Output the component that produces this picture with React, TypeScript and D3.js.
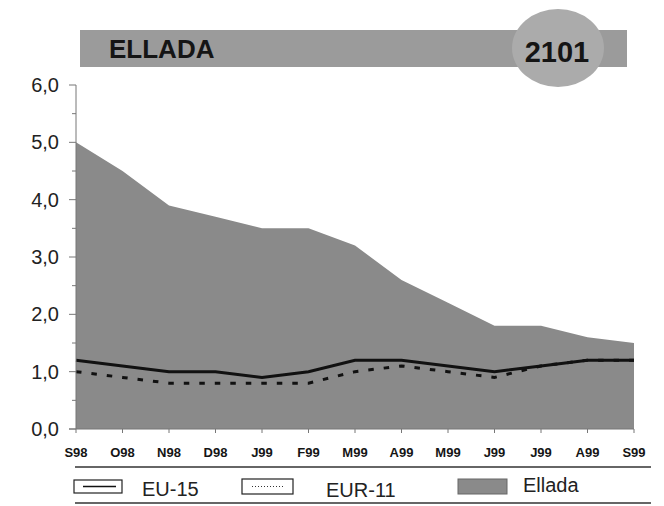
import React from "react";
import * as d3 from "d3";

const months = ["S98", "O98", "N98", "D98", "J99", "F99", "M99", "A99", "M99", "J99", "J99", "A99", "S99"];
const ellada = [5.0, 4.5, 3.9, 3.7, 3.5, 3.5, 3.2, 2.6, 2.2, 1.8, 1.8, 1.6, 1.5];
const eu15 = [1.2, 1.1, 1.0, 1.0, 0.9, 1.0, 1.2, 1.2, 1.1, 1.0, 1.1, 1.2, 1.2];
const eur11 = [1.0, 0.9, 0.8, 0.8, 0.8, 0.8, 1.0, 1.1, 1.0, 0.9, 1.1, 1.2, 1.2];
const yTicks = [0, 1, 2, 3, 4, 5, 6];
const yMinor = [0.5, 1.5, 2.5, 3.5, 4.5, 5.5];
const title = "ELLADA";
const code = "2101";
const legendLabels = ["EU-15", "EUR-11", "Ellada"];

const FONT = "'Liberation Sans', Arial, Helvetica, sans-serif";

export default function App() {
  const W = 664, H = 506;
  const x = d3.scaleLinear().domain([0, months.length - 1]).range([76, 634]);
  const y = d3.scaleLinear().domain([0, 6]).range([429, 85]);
  const idx = months.map((_, i) => i);

  const area = d3.area<number>().x((i) => x(i)).y0(y(0)).y1((i) => y(ellada[i]));
  const lineOf = (arr: number[]) => d3.line<number>().x((i) => x(i)).y((i) => y(arr[i]))(idx) || "";
  const fmt = (v: number) => v.toFixed(1).replace(".", ",");

  return (
    <svg width={W} height={H} style={{ position: "absolute", left: 0, top: 0, background: "#fff" }}>
      {/* title bar */}
      <rect x={80} y={30} width={547} height={37} fill="#9b9b9b" />
      <text x={109} y={58} fontFamily={FONT} fontWeight="bold" fontSize={26} fill="#151515">{title}</text>
      <ellipse cx={558} cy={48} rx={46} ry={39} fill="#ababab" />
      <text x={557} y={62} textAnchor="middle" fontFamily={FONT} fontWeight="bold" fontSize={29} fill="#151515">{code}</text>

      {/* area */}
      <path d={area(idx) || ""} fill="#8a8a8a" />
      <path d={lineOf(eur11)} fill="none" stroke="#111" strokeWidth={3} strokeDasharray="5.5,10" />
      <path d={lineOf(eu15)} fill="none" stroke="#111" strokeWidth={3} />

      {/* y axis */}
      <line x1={76} x2={76} y1={y(6)} y2={y(0)} stroke="#777" strokeWidth={1} />
      {yTicks.map((t) => (
        <g key={"t" + t}>
          <line x1={69} x2={76} y1={y(t)} y2={y(t)} stroke="#777" strokeWidth={1} />
          <text x={59} y={y(t) + 7} textAnchor="end" fontFamily={FONT} fontSize={20} fill="#222">{fmt(t)}</text>
        </g>
      ))}
      {yMinor.map((t) => (
        <line key={"m" + t} x1={72} x2={76} y1={y(t)} y2={y(t)} stroke="#777" strokeWidth={1} />
      ))}

      {/* x axis */}
      <line x1={69} x2={x(months.length - 1)} y1={y(0)} y2={y(0)} stroke="#777" strokeWidth={1} />
      {months.map((m, i) => (
        <g key={"x" + i}>
          <line x1={x(i)} x2={x(i)} y1={y(0)} y2={y(0) + 4} stroke="#777" strokeWidth={1} />
          <text x={x(i)} y={457} textAnchor="middle" fontFamily={FONT} fontWeight="bold" fontSize={13} fill="#151515">{m}</text>
        </g>
      ))}

      {/* legend */}
      <line x1={75} x2={651} y1={467} y2={467} stroke="#333" strokeWidth={1.5} />
      <line x1={75} x2={651} y1={503} y2={503} stroke="#333" strokeWidth={1.5} />
      <rect x={74} y={480} width={48} height={13} fill="#fff" stroke="#222" strokeWidth={1.2} />
      <line x1={83} x2={116} y1={486.5} y2={486.5} stroke="#111" strokeWidth={1.5} />
      <text x={142} y={496} fontFamily={FONT} fontSize={20} fill="#222">{legendLabels[0]}</text>
      <rect x={242} y={479} width={51} height={15} fill="#fff" stroke="#222" strokeWidth={1.2} />
      <line x1={252} x2={284} y1={486.5} y2={486.5} stroke="#333" strokeWidth={1} strokeDasharray="1,2" />
      <text x={326} y={497} fontFamily={FONT} fontSize={20} fill="#222">{legendLabels[1]}</text>
      <rect x={458} y={479} width={49} height={15} fill="#8a8a8a" stroke="#666" strokeWidth={1} />
      <text x={523} y={492} fontFamily={FONT} fontSize={20} fill="#222">{legendLabels[2]}</text>
    </svg>
  );
}
